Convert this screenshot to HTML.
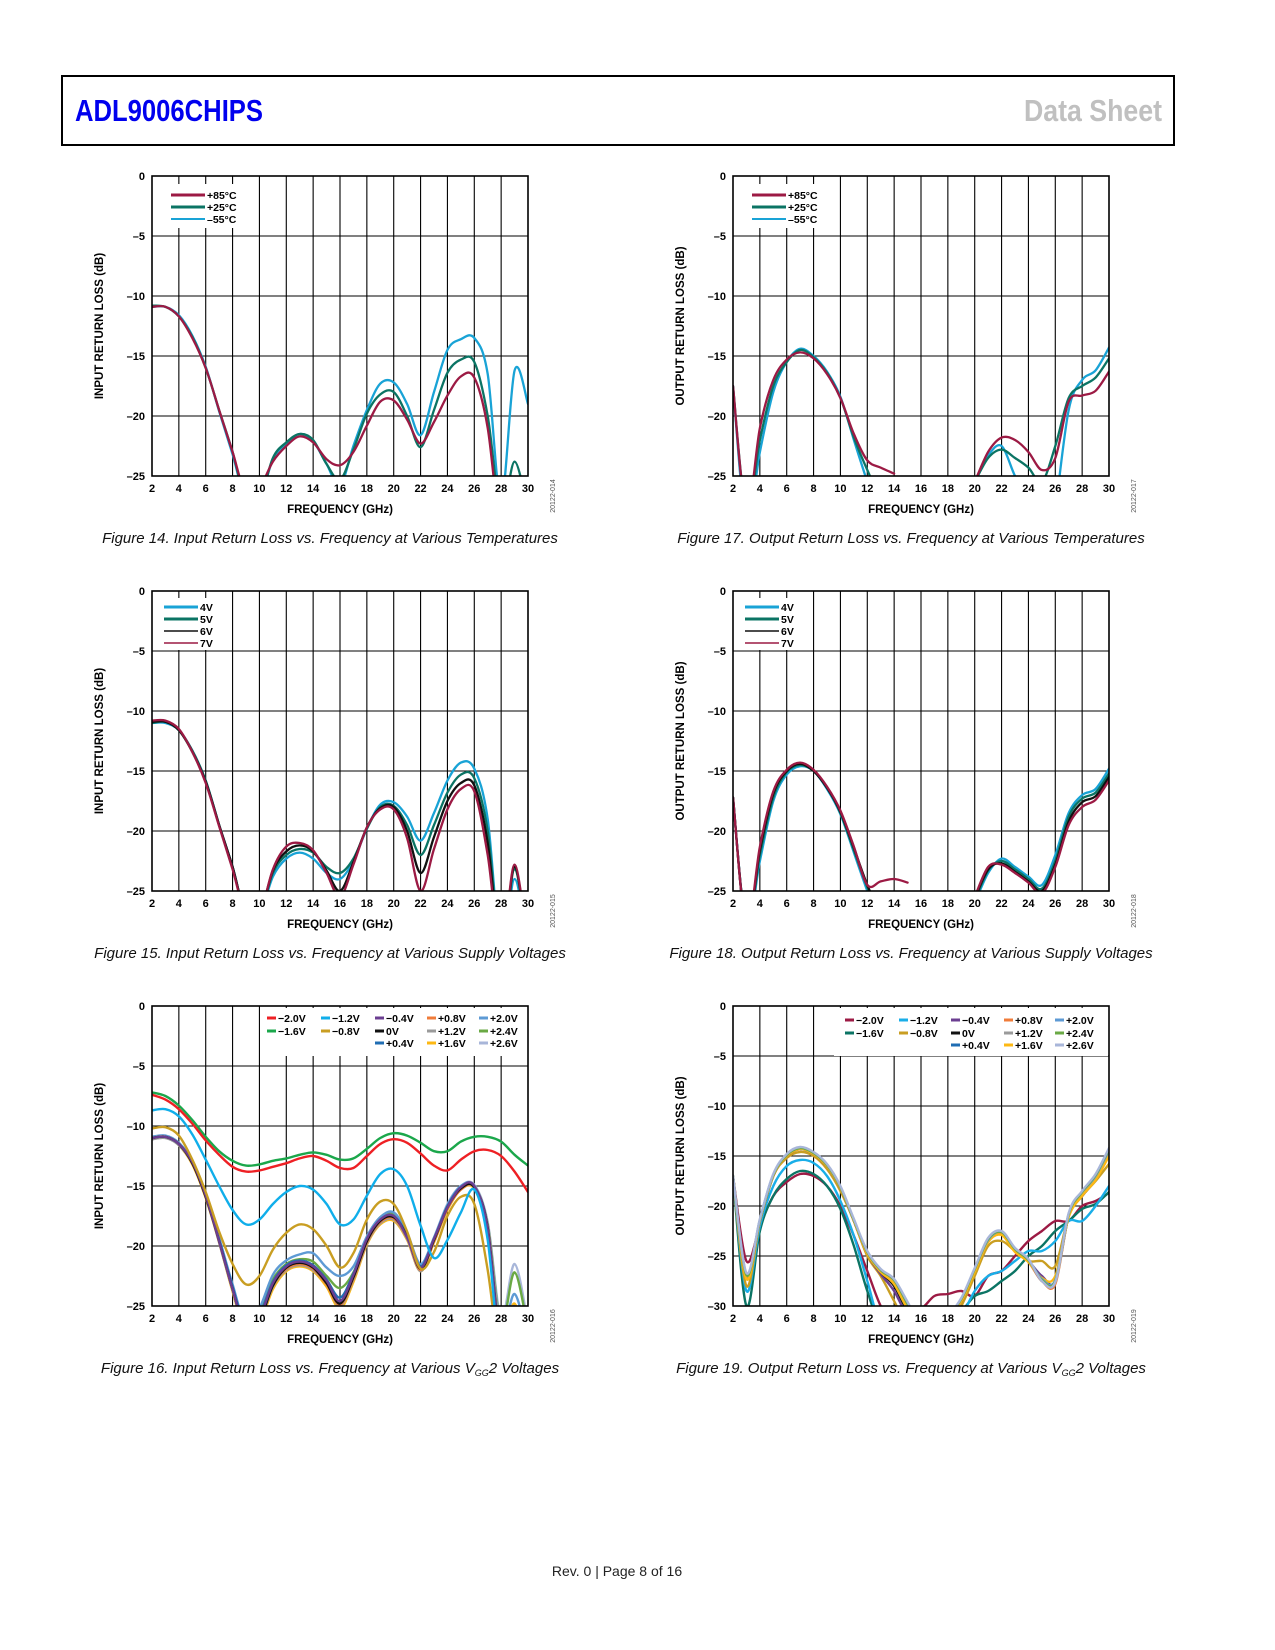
<!DOCTYPE html>
<html><head><meta charset="utf-8"><style>
html,body{margin:0;padding:0;background:#fff}
svg{display:block}
text{font-family:"Liberation Sans",sans-serif}
</style></head>
<body>
<svg id="page" width="1275" height="1650" viewBox="0 0 1275 1650" xmlns="http://www.w3.org/2000/svg">
<rect x="62" y="76" width="1112" height="69" fill="none" stroke="#000" stroke-width="2"/>
<text x="75" y="121" textLength="188" lengthAdjust="spacingAndGlyphs" font-family="Liberation Sans Narrow, Liberation Sans, sans-serif" font-weight="bold" font-size="31" fill="#0000ee">ADL9006CHIPS</text>
<text x="1024" y="121" textLength="138" lengthAdjust="spacingAndGlyphs" font-family="Liberation Sans Narrow, Liberation Sans, sans-serif" font-weight="bold" font-size="31" fill="#c0c0c0">Data Sheet</text>
<text x="617" y="1576" text-anchor="middle" font-size="14" fill="#222">Rev. 0 | Page 8 of 16</text>
<g id="charts"></g>
</svg>
<script>
const FREQ = [2,3,4,5,6,7,8,9,10,11,12,13,14,15,16,17,18,19,20,21,22,23,24,25,26,27,28,29,30];
const XTICKS = [2,4,6,8,10,12,14,16,18,20,22,24,26,28,30];
const YTICKS_25 = [0,-5,-10,-15,-20,-25];
const YTICKS_30 = [0,-5,-10,-15,-20,-25,-30];

// Figure 14 – input RL vs temperature
const F14_P85 = [-10.9,-10.9,-11.7,-13.5,-16,-19.5,-23,-26.5,-26,-23.8,-22.5,-21.7,-22.2,-23.6,-24.1,-23,-20.8,-18.8,-18.7,-20.3,-22.3,-20.5,-18.3,-16.7,-16.8,-21,-30,-30,-30];
const F14_P25 = [-10.8,-10.9,-11.7,-13.4,-16,-19.5,-23,-27,-27,-23.5,-22.2,-21.5,-22,-24,-25.3,-22.8,-19.8,-18.2,-18,-20,-22.6,-19.5,-16.4,-15.3,-15.5,-20,-28,-23.8,-28];
const F14_M55 = [-10.9,-10.9,-11.6,-13.3,-15.9,-19.6,-23.2,-27,-27,-23.6,-22.3,-21.5,-22.1,-24,-25.8,-22.5,-19.5,-17.3,-17.2,-19,-21.6,-18,-14.5,-13.6,-13.5,-16.5,-27,-16.2,-19];

// Figure 15 – input RL vs supply
const F15_4V = [-11,-11,-11.6,-13.3,-15.8,-19.5,-23,-27,-27,-23.8,-22.3,-21.8,-22.3,-23.5,-24,-22.5,-19.8,-17.8,-17.6,-18.8,-20.8,-18.5,-15.8,-14.3,-14.8,-19,-30,-24,-30];
const F15_5V = [-11,-10.9,-11.6,-13.3,-15.8,-19.5,-23,-27,-27,-23.5,-22,-21.5,-21.8,-23,-23.5,-22.3,-19.8,-18,-17.9,-19.5,-22,-19.5,-16.8,-15.3,-15.6,-20,-30,-23.2,-30];
const F15_6V = [-10.9,-10.9,-11.6,-13.4,-15.9,-19.5,-23,-27,-27,-23.3,-21.7,-21.2,-21.7,-23.3,-25,-22.6,-19.7,-18.1,-18,-20,-23.5,-20.5,-17.5,-16,-16.2,-21,-30,-23,-30];
const F15_7V = [-10.8,-10.8,-11.5,-13.4,-16,-19.6,-23.2,-27,-27,-23.2,-21.3,-21,-21.6,-23.5,-25.5,-22.8,-19.7,-18.2,-18.2,-20.6,-25,-21.5,-18.2,-16.5,-16.7,-22,-30,-22.8,-30];

// Figure 16 – input RL vs VGG2
const F16_M20 = [-7.4,-7.8,-8.6,-9.8,-11.2,-12.4,-13.4,-13.8,-13.7,-13.4,-13.1,-12.7,-12.5,-12.9,-13.5,-13.5,-12.5,-11.5,-11.1,-11.4,-12.3,-13.3,-13.7,-12.8,-12.1,-12,-12.5,-13.8,-15.5];
const F16_M16 = [-7.2,-7.5,-8.3,-9.5,-10.9,-12.1,-12.9,-13.3,-13.2,-12.9,-12.7,-12.4,-12.2,-12.4,-12.8,-12.7,-11.9,-11,-10.6,-10.8,-11.4,-12.1,-12.1,-11.3,-10.9,-10.9,-11.3,-12.4,-13.3];
const F16_M12 = [-8.7,-8.6,-9.2,-10.7,-12.8,-15,-17,-18.2,-17.8,-16.5,-15.5,-15,-15.3,-16.5,-18.2,-17.8,-15.8,-14,-13.6,-15,-18.3,-21,-19.5,-17.2,-15.3,-19.5,-30,-30,-30];
const F16_M08 = [-10.2,-10.1,-10.8,-12.8,-15.5,-18.8,-21.5,-23.2,-22.5,-20.3,-18.9,-18.2,-18.6,-20,-21.8,-20.6,-17.8,-16.3,-16.5,-18.8,-21.9,-20.5,-17.5,-15.9,-16.5,-22,-30,-30,-30];
const F16_M04 = [-11,-10.9,-11.5,-13,-15.8,-19.6,-23.6,-27,-26,-23.1,-21.7,-21.3,-21.7,-22.9,-24.6,-22.4,-19.4,-17.8,-17.5,-19.3,-21.8,-19.4,-16.8,-15.1,-15,-18.6,-29,-30,-30];
const F16_0V  = [-11,-10.9,-11.5,-13.1,-15.9,-19.6,-23.6,-27,-26.2,-23.3,-21.8,-21.4,-21.8,-23.1,-24.8,-22.6,-19.6,-17.9,-17.6,-19.2,-21.9,-19.5,-16.8,-15.2,-15.1,-18.5,-29,-30,-30];
const F16_P04 = [-11,-10.9,-11.5,-13,-15.8,-19.5,-23.4,-26.8,-25.8,-23,-21.6,-21.2,-21.6,-22.8,-24.3,-22.3,-19.5,-17.8,-17.5,-19.1,-21.7,-19.4,-16.7,-15.1,-15.1,-18.7,-28.5,-30,-30];
const F16_P08 = [-11,-10.9,-11.5,-13.1,-15.9,-19.6,-23.6,-27,-26.1,-23.3,-21.9,-21.5,-21.9,-23.2,-24.9,-22.7,-19.7,-18,-17.7,-19.3,-22,-19.6,-16.9,-15.3,-15.1,-18.5,-28,-26,-30];
const F16_P12 = [-11.1,-11,-11.6,-13.1,-15.9,-19.7,-23.7,-27.2,-26.3,-23.4,-22,-21.6,-22,-23.2,-25,-22.8,-19.8,-18.1,-17.8,-19.4,-22.1,-19.6,-16.9,-15.3,-15.1,-18.3,-27.5,-25,-29];
const F16_P16 = [-11,-10.9,-11.6,-13.2,-16,-19.7,-23.8,-27.3,-26.5,-23.6,-22.1,-21.7,-22.1,-23.4,-25.2,-23,-19.9,-18.2,-17.9,-19.5,-22.1,-19.7,-17,-15.3,-15.2,-18.4,-27.5,-24.8,-29];
const F16_P20 = [-10.9,-10.8,-11.4,-12.9,-15.6,-19.3,-23.2,-26.5,-25.2,-22.4,-21.2,-20.7,-20.6,-21.8,-22.5,-21.7,-19.2,-17.6,-17.2,-18.9,-21.5,-19.3,-16.6,-15,-15,-18.3,-27,-24,-28];
const F16_P24 = [-11,-10.9,-11.5,-13,-15.8,-19.5,-23.4,-26.8,-25.6,-22.8,-21.5,-21.1,-21.3,-22.5,-23.5,-22.2,-19.4,-17.6,-17.3,-19,-21.7,-19.4,-16.7,-15.1,-15,-18.2,-26.5,-22.2,-27];
const F16_P26 = [-11.1,-11,-11.6,-13.1,-15.9,-19.6,-23.6,-27,-26,-23.1,-21.8,-21.3,-21.7,-23,-24.8,-22.5,-19.6,-17.9,-17.6,-19.2,-21.9,-19.3,-16.5,-15,-14.9,-18,-26,-21.5,-26.5];

// Figure 17 – output RL vs temperature
const F17_P85 = [-17.5,-28,-21,-17,-15.3,-14.7,-15.2,-16.5,-18.5,-21.5,-23.7,-24.3,-24.8,null,null,null,null,null,-25.5,-23,-21.8,-22,-23,-24.5,-23.5,-18.8,-18.3,-17.9,-16.3];
const F17_P25 = [-17.5,-28,-22,-17.5,-15.5,-14.5,-15.1,-16.4,-18.5,-21.8,-24.5,-27,null,null,null,null,null,null,-25.5,-23.5,-22.8,-23.5,-24.3,-25.5,-22.5,-18.5,-17.5,-16.8,-15.2];
const F17_M55 = [-17.5,-29,-23,-18,-15.5,-14.4,-15,-16.3,-18.4,-22,-25.5,null,null,null,null,null,null,null,-25.5,-23.3,-22.5,-25,-27,null,-28,-19.5,-17,-16.2,-14.3];

// Figure 18 – output RL vs supply
const F18_4V = [-17.2,-28,-22.5,-17.5,-15.3,-14.6,-15,-16.5,-18.6,-21.8,-25,-28,null,null,null,null,null,null,-26,-23.5,-22.3,-23,-23.8,-24.5,-22,-18.5,-17,-16.5,-14.8];
const F18_5V = [-17.2,-28,-22,-17.2,-15.1,-14.5,-15,-16.4,-18.5,-21.6,-24.7,-27.5,null,null,null,null,null,null,-25.8,-23.3,-22.5,-23.2,-24,-24.8,-22.5,-18.8,-17.3,-16.8,-15.2];
const F18_6V = [-17.2,-28,-21.6,-16.9,-15,-14.4,-15,-16.4,-18.4,-21.4,-24.5,-27,null,null,null,null,null,null,-25.6,-23.2,-22.7,-23.4,-24.2,-25,-22.8,-19.2,-17.6,-17.1,-15.5];
const F18_7V = [-17.2,-28,-21.3,-16.7,-14.9,-14.3,-14.9,-16.3,-18.3,-21.3,-24.5,-24.2,-24,-24.3,null,null,null,null,-25.5,-23,-22.8,-23.5,-24.3,-25.2,-23,-19.5,-18,-17.4,-15.8];

// Figure 19 – output RL vs VGG2
const F19_M20 = [-17,-25.5,-22,-19,-17.6,-16.8,-17,-18,-20,-23,-26.5,-30,-32,-30.5,-30.3,-29,-28.8,-28.5,-29,-27,-26.5,-25,-23.5,-22.5,-21.5,-21.5,-20,-19.5,-18.7];
const F19_M16 = [-17,-30,-22.5,-19,-17.3,-16.5,-16.8,-18,-20.3,-24,-28.5,-32,-32,-30.8,-30.5,-30.5,-31,-30.5,-29,-28.5,-27.5,-26.5,-25,-24,-22.5,-21.5,-20.3,-19.8,-18.6];
const F19_M12 = [-17,-28.5,-22,-18,-16,-15.4,-15.7,-17,-19.5,-23,-27.5,-32,-32,-32,-32,-32,-32,-31,-28.5,-27,-26.5,-25.5,-24.5,-24.5,-23.5,-21.5,-21.5,-20,-18];
const F19_M08 = [-17,-28,-21.5,-17,-15.2,-14.6,-15,-16.3,-18.5,-21.5,-25,-27,-29.5,-32,-32,-32,-32,-30,-27,-24,-23.5,-24.5,-25.5,-25.5,-26,-21,-19,-17.5,-15.8];
const F19_M04 = [-17,-27.2,-21.5,-17,-15,-14.3,-14.8,-16,-18.2,-21.5,-24.8,-26.8,-28.5,-31,-32,-32,-31,-29.5,-26.5,-23.5,-22.8,-24.5,-25.5,-27,-27.5,-21,-19,-17.3,-14.8];
const F19_0V  = [-17,-27,-21.5,-17,-15,-14.3,-14.8,-16,-18.2,-21.5,-24.8,-26.6,-28,-30.5,-32,-32,-31,-29.5,-26.5,-23.5,-22.8,-24.5,-25.5,-27.5,-27.5,-21,-19,-17.3,-14.7];
const F19_P04 = [-17,-27,-21.4,-16.9,-14.9,-14.3,-14.8,-16,-18.2,-21.4,-24.7,-26.5,-27.8,-30.3,-32,-32,-31,-29.4,-26.4,-23.4,-22.7,-24.4,-25.4,-27.3,-27.6,-21,-18.9,-17.2,-14.6];
const F19_P08 = [-17,-27,-21.5,-17,-15,-14.3,-14.8,-16,-18.2,-21.5,-24.8,-26.5,-27.6,-30,-32,-32,-31,-29.5,-26.5,-23.5,-22.8,-24.5,-25.6,-27.5,-27.8,-21,-18.8,-17.2,-14.6];
const F19_P12 = [-17,-26.9,-21.4,-16.9,-14.9,-14.2,-14.7,-15.9,-18.1,-21.4,-24.7,-26.4,-27.5,-30,-32,-32,-31,-29.4,-26.4,-23.4,-22.6,-24.4,-25.5,-27.4,-27.6,-20.9,-18.8,-17.1,-14.5];
const F19_P16 = [-17,-27.3,-21.5,-17,-15,-14.3,-14.8,-16,-18.2,-21.5,-24.8,-26.6,-27.8,-30.3,-32,-32,-31,-29.5,-26.6,-23.6,-22.9,-24.6,-25.6,-27.2,-27,-21.1,-19,-17.4,-15];
const F19_P20 = [-17,-26.8,-21.4,-16.9,-14.9,-14.2,-14.7,-15.9,-18.1,-21.4,-24.6,-26.4,-27.4,-29.8,-32,-32,-31,-29.3,-26.3,-23.4,-22.6,-24.3,-25.4,-27.3,-27.4,-20.8,-18.6,-17,-14.4];
const F19_P24 = [-17,-26.9,-21.4,-16.9,-14.9,-14.2,-14.7,-15.9,-18.1,-21.4,-24.6,-26.4,-27.4,-29.8,-32,-32,-31,-29.3,-26.3,-23.3,-22.6,-24.3,-25.4,-27.4,-27.5,-20.8,-18.6,-16.9,-14.3];
const F19_P26 = [-17,-26.7,-21.3,-16.8,-14.8,-14.1,-14.6,-15.8,-18,-21.3,-24.5,-26.3,-27.3,-29.6,-32,-32,-31,-29.2,-26.2,-23.2,-22.5,-24.2,-25.3,-27.5,-27.6,-20.7,-18.5,-16.8,-14.2];

const C_MAROON="#9c1a44", C_TEAL="#0b7464", C_LBLUE="#19a3d6", C_BLACK="#111";
const VCOL = {m20:"#ee2024", m16:"#1ba74b", m12:"#10aeea", m08:"#c99e22", m04:"#6b3e91", z0:"#111111", p04:"#1f6db3", p08:"#f07c3a", p12:"#9a9a9a", p16:"#fdb813", p20:"#5d9ad4", p24:"#6aa944", p26:"#a8b6d9"};
const VCOL19 = {m20:"#9c1a44", m16:"#0b7464", m12:"#19aee8", m08:"#c99e22", m04:"#6b3e91", z0:"#111111", p04:"#1f6db3", p08:"#f07c3a", p12:"#9a9a9a", p16:"#fdb813", p20:"#5d9ad4", p24:"#6aa944", p26:"#a8b6d9"};

const NS="http://www.w3.org/2000/svg";
const root=document.getElementById('charts');
function mk(tag, attrs, parent){const e=document.createElementNS(NS,tag);for(const k in attrs)e.setAttribute(k,attrs[k]);(parent||root).appendChild(e);return e;}

function crPath(pts){
  let d="M"+pts[0][0].toFixed(1)+","+pts[0][1].toFixed(1);
  for(let i=0;i<pts.length-1;i++){
    const p0=pts[i-1]||pts[i],p1=pts[i],p2=pts[i+1],p3=pts[i+2]||p2;
    const c1x=p1[0]+(p2[0]-p0[0])/6,c1y=p1[1]+(p2[1]-p0[1])/6;
    const c2x=p2[0]-(p3[0]-p1[0])/6,c2y=p2[1]-(p3[1]-p1[1])/6;
    d+=" C"+c1x.toFixed(1)+","+c1y.toFixed(1)+" "+c2x.toFixed(1)+","+c2y.toFixed(1)+" "+p2[0].toFixed(1)+","+p2[1].toFixed(1);
  }
  return d;
}

function chart(cfg){
  const g=mk('g',{});
  
  
  const L=cfg.x,T=cfg.y,W=376,H=300,ymin=cfg.ymin;
  const sx=f=>L+(f-2)/28*W, sy=v=>T+(0-v)/(0-ymin)*H;
  XTICKS.forEach(t=>{ if(t>2&&t<30){const l=mk('line',{x1:sx(t),x2:sx(t),y1:T,y2:T+H,stroke:'#000','stroke-width':1.1},g);
    
    }});
  cfg.yticks.forEach(t=>{ if(t<0&&t>ymin){const l=mk('line',{x1:L,x2:L+W,y1:sy(t),y2:sy(t),stroke:'#000','stroke-width':1.1},g);
    
    }});
  if(cfg.legendBg){const r=mk('rect',{x:cfg.legendBg[0],y:cfg.legendBg[1],width:cfg.legendBg[2],height:cfg.legendBg[3],fill:'#fff'},g);
    
    }
  const cid='clip'+cfg.name;
  const cp=mk('clipPath',{id:cid},g); mk('rect',{x:L,y:T,width:W,height:H},cp);
  const sg=mk('g',{'clip-path':'url(#'+cid+')'},g);
  cfg.series.forEach(s=>{
    let seg=[],segs=[];
    s.data.forEach((v,i)=>{ if(v===null){ if(seg.length)segs.push(seg); seg=[]; } else seg.push([sx(FREQ[i]),sy(v)]); });
    if(seg.length)segs.push(seg);
    segs.forEach(sg2=>{ if(sg2.length<2)return;
      const p=mk('path',{d:crPath(sg2),fill:'none',stroke:s.color,'stroke-width':s.w||2.3,'stroke-linejoin':'round','stroke-linecap':'round'},sg);
      
      
    });
  });
  const fr=mk('rect',{x:L,y:T,width:W,height:H,fill:'none',stroke:'#000','stroke-width':1.6},g);
  
  
  XTICKS.forEach(t=>{const tx=mk('text',{x:sx(t),y:T+H+16,'text-anchor':'middle','font-size':11,'font-weight':'bold'},g);tx.textContent=t;
    
    });
  cfg.yticks.forEach(t=>{const tx=mk('text',{x:L-7,y:sy(t)+4,'text-anchor':'end','font-size':11,'font-weight':'bold'},g);tx.textContent=t===0?'0':'\u2013'+(-t);
    
    });
  const xt=mk('text',{x:L+W/2,y:T+H+37,'text-anchor':'middle','font-size':11.5,'font-weight':'bold'},g);xt.textContent='FREQUENCY (GHz)';
  
  
  const yx=L-49, yy=T+H/2;
  const yt=mk('text',{x:yx,y:yy,'text-anchor':'middle','font-size':11.5,'font-weight':'bold',transform:'rotate(-90 '+yx+' '+yy+')'},g);yt.textContent=cfg.ytitle;
  
  
  const idx=L+W+27, idy=T+H+20;
  const id=mk('text',{x:idx,y:idy,'text-anchor':'middle','font-size':7,fill:'#555',transform:'rotate(-90 '+idx+' '+idy+')'},g);id.textContent=cfg.fid;
  
  
  const cap=mk('text',{x:L+W/2-10,y:T+H+67,'text-anchor':'middle','font-size':15,'font-style':'italic',fill:'#111'},g);
  cap.innerHTML=cfg.caption;
  
  
  (cfg.legend||[]).forEach(e=>{
    const ln=mk('line',{x1:e.x,x2:e.x+e.lw,y1:e.y-4,y2:e.y-4,stroke:e.c,'stroke-width':e.sw||3},g);
    
    
    const tx=mk('text',{x:e.x+e.lw+2,y:e.y,'font-size':e.fs||10.5,'font-weight':'bold'},g);tx.textContent=e.t;
    
    
  });
}

const LX=152, RX=733, R1=176, R2=591, R3=1006;
function tempLegend(x,y){return [{x:x,y:y,lw:34,c:C_MAROON,t:'+85\u00b0C'},{x:x,y:y+12,lw:34,c:C_TEAL,t:'+25\u00b0C'},{x:x,y:y+24,lw:34,c:C_LBLUE,t:'\u201355\u00b0C',sw:2}];}
function voltLegend(x,y){return [{x:x,y:y,lw:34,c:C_LBLUE,t:'4V'},{x:x,y:y+12,lw:34,c:C_TEAL,t:'5V'},{x:x,y:y+24,lw:34,c:C_BLACK,t:'6V',sw:1.5},{x:x,y:y+36,lw:34,c:C_MAROON,t:'7V',sw:1.5}];}
function vggLegend(cols,rows,C){
  const d=[[['m20','\u22122.0V'],['m16','\u22121.6V']],[['m12','\u22121.2V'],['m08','\u22120.8V']],[['m04','\u22120.4V'],['z0','0V'],['p04','+0.4V']],[['p08','+0.8V'],['p12','+1.2V'],['p16','+1.6V']],[['p20','+2.0V'],['p24','+2.4V'],['p26','+2.6V']]];
  const out=[];d.forEach((col,ci)=>col.forEach((e,ri)=>out.push({x:cols[ci],y:rows[ri],lw:9,c:C[e[0]],t:e[1],fs:10.5})));return out;
}

chart({name:'figure-14-chart',x:LX,y:R1,ymin:-25,yticks:YTICKS_25,ytitle:'INPUT RETURN LOSS (dB)',fid:'20122-014',
  caption:'Figure 14. Input Return Loss vs. Frequency at Various Temperatures',legendBg:[166,184,80,44],legend:tempLegend(171,199),
  series:[{key:'m55',data:F14_M55,color:C_LBLUE},{key:'p25',data:F14_P25,color:C_TEAL},{key:'p85',data:F14_P85,color:C_MAROON}]});
chart({name:'figure-17-chart',x:RX,y:R1,ymin:-25,yticks:YTICKS_25,ytitle:'OUTPUT RETURN LOSS (dB)',fid:'20122-017',
  caption:'Figure 17. Output Return Loss vs. Frequency at Various Temperatures',legendBg:[747,184,80,44],legend:tempLegend(752,199),
  series:[{key:'m55',data:F17_M55,color:C_LBLUE},{key:'p25',data:F17_P25,color:C_TEAL},{key:'p85',data:F17_P85,color:C_MAROON}]});
chart({name:'figure-15-chart',x:LX,y:R2,ymin:-25,yticks:YTICKS_25,ytitle:'INPUT RETURN LOSS (dB)',fid:'20122-015',
  caption:'Figure 15. Input Return Loss vs. Frequency at Various Supply Voltages',legendBg:[160,598,70,52],legend:voltLegend(164,611),
  series:[{key:'4v',data:F15_4V,color:C_LBLUE},{key:'5v',data:F15_5V,color:C_TEAL},{key:'6v',data:F15_6V,color:C_BLACK},{key:'7v',data:F15_7V,color:C_MAROON}]});
chart({name:'figure-18-chart',x:RX,y:R2,ymin:-25,yticks:YTICKS_25,ytitle:'OUTPUT RETURN LOSS (dB)',fid:'20122-018',
  caption:'Figure 18. Output Return Loss vs. Frequency at Various Supply Voltages',legendBg:[741,598,70,52],legend:voltLegend(745,611),
  series:[{key:'4v',data:F18_4V,color:C_LBLUE},{key:'5v',data:F18_5V,color:C_TEAL},{key:'6v',data:F18_6V,color:C_BLACK},{key:'7v',data:F18_7V,color:C_MAROON}]});

const S16=[['m20',F16_M20],['m16',F16_M16],['m12',F16_M12],['m08',F16_M08],['m04',F16_M04],['z0',F16_0V],['p04',F16_P04],['p08',F16_P08],['p12',F16_P12],['p16',F16_P16],['p20',F16_P20],['p24',F16_P24],['p26',F16_P26]];
chart({name:'figure-16-chart',x:LX,y:R3,ymin:-25,yticks:YTICKS_25,ytitle:'INPUT RETURN LOSS (dB)',fid:'20122-016',
  caption:'Figure 16. Input Return Loss vs. Frequency at Various V<tspan font-size="9" dy="3">GG</tspan><tspan dy="-3">2 Voltages</tspan>',
  legendBg:[263,1008,263,48],legend:vggLegend([267,321,375,427,479],[1022,1035,1047],VCOL),
  series:S16.slice().reverse().map(s=>({key:s[0],data:s[1],color:VCOL[s[0]],w:2.4}))});
const S19=[['m20',F19_M20],['m16',F19_M16],['m12',F19_M12],['m08',F19_M08],['m04',F19_M04],['z0',F19_0V],['p04',F19_P04],['p08',F19_P08],['p12',F19_P12],['p16',F19_P16],['p20',F19_P20],['p24',F19_P24],['p26',F19_P26]];
chart({name:'figure-19-chart',x:RX,y:R3,ymin:-30,yticks:YTICKS_30,ytitle:'OUTPUT RETURN LOSS (dB)',fid:'20122-019',
  caption:'Figure 19. Output Return Loss vs. Frequency at Various V<tspan font-size="9" dy="3">GG</tspan><tspan dy="-3">2 Voltages</tspan>',
  legendBg:[834,1008,274,48],legend:vggLegend([845,899,951,1004,1055],[1024,1037,1049],VCOL19),
  series:S19.map(s=>({key:s[0],data:s[1],color:VCOL19[s[0]],w:2.4}))});
</script>
</body></html>
